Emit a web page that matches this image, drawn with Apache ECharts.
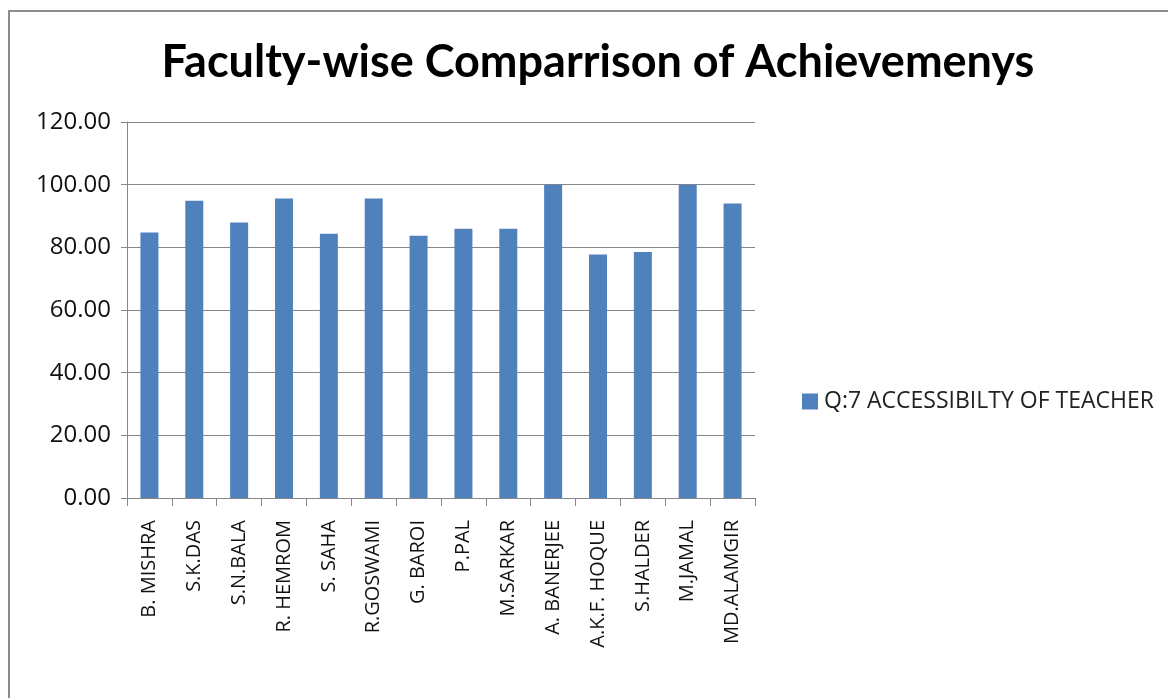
<html>
<head>
  <meta charset="utf-8" />
  <script src="https://cdn.jsdelivr.net/npm/echarts@6/dist/echarts.min.js"></script>
  <style>
    html, body { margin: 0; padding: 0; background: #fff; }
    .frame {
      position: absolute; left: 8px; top: 10px; width: 1200px; height: 720px;
      border-left: 2px solid #8c8c8c; border-top: 2px solid #8c8c8c;
    }
    .chart { position: absolute; left: 0; top: 0; width: 1168px; height: 698px; }
  </style>
</head>
<body>
  <div class="frame"></div>
  <div class="chart" id="chart"></div>
  <script>
    var categories = ['B. MISHRA', 'S.K.DAS', 'S.N.BALA', 'R. HEMROM', 'S. SAHA', 'R.GOSWAMI', 'G. BAROI',
      'P.PAL', 'M.SARKAR', 'A. BANERJEE', 'A.K.F. HOQUE', 'S.HALDER', 'M.JAMAL', 'MD.ALAMGIR'];
    var accessibility = [84.7, 94.9, 87.9, 95.6, 84.3, 95.6, 83.7, 85.9, 85.9, 100, 77.7, 78.5, 100, 94.0];
    var seriesName = 'Q:7 ACCESSIBILTY OF TEACHER';

    var chart = echarts.init(document.getElementById('chart'));
    var axisGray = '#868686';
    chart.setOption({
      animation: false,
      title: {
        text: 'Faculty-wise Comparrison of Achievemenys',
        left: 593, top: 35, textAlign: 'center',
        textStyle: { fontFamily: 'Lato', fontWeight: 'bold', fontSize: 45, color: '#000' }
      },
      legend: {
        left: 797, top: 385, orient: 'vertical',
        itemWidth: 16, itemHeight: 16, itemGap: 6,
        data: [{ name: seriesName, icon: 'rect' }],
        textStyle: { fontFamily: 'Open Sans', fontSize: 23, color: '#222', padding: [0, 0, 0, 1] }
      },
      grid: { left: 127, right: 413, top: 122, bottom: 200 },
      xAxis: {
        type: 'category',
        data: categories,
        axisLine: { lineStyle: { color: axisGray, width: 1 } },
        axisTick: { show: true, length: 8, alignWithLabel: false, lineStyle: { color: axisGray } },
        axisLabel: {
          rotate: 90, interval: 0, margin: 22,
          fontFamily: 'Open Sans', fontSize: 20, color: '#111'
        }
      },
      yAxis: {
        type: 'value', min: 0, max: 120, interval: 20,
        axisLine: { show: true, lineStyle: { color: axisGray, width: 1 } },
        axisTick: { show: true, length: 6, lineStyle: { color: axisGray } },
        splitLine: { lineStyle: { color: axisGray, width: 1 } },
        axisLabel: {
          margin: 16,
          fontFamily: 'Open Sans', fontSize: 24, color: '#111',
          formatter: function (v) { return v.toFixed(2); }
        }
      },
      series: [{
        name: seriesName,
        type: 'bar',
        data: accessibility,
        barWidth: 18,
        itemStyle: { color: '#4F81BD' }
      }]
    });
  </script>
</body>
</html>
